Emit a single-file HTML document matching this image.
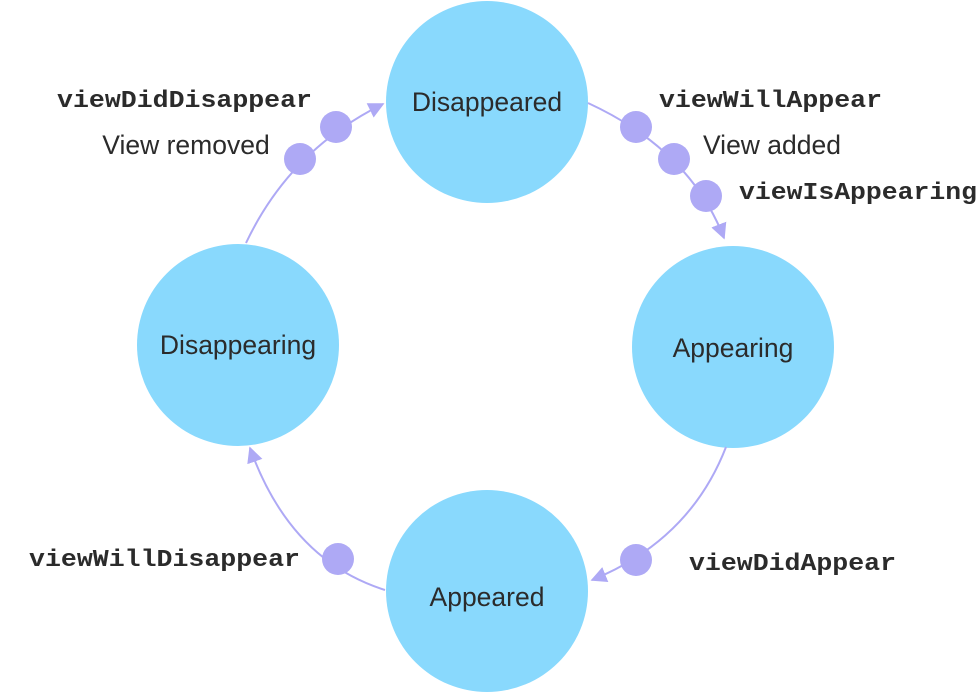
<!DOCTYPE html>
<html><head><style>body{margin:0;background:#fff}svg{display:block}</style></head><body>
<svg width="978" height="692" viewBox="0 0 978 692" xmlns="http://www.w3.org/2000/svg">
<defs><marker id="a" viewBox="0 0 10 10" refX="9" refY="5" markerWidth="8" markerHeight="8" orient="auto"><path d="M0,0L10,5L0,10z" fill="#aea9f5"/></marker></defs>
<g fill="#89d9fd">
<circle cx="487" cy="102" r="101"/>
<circle cx="733" cy="347" r="101"/>
<circle cx="487" cy="591" r="101"/>
<circle cx="238" cy="345" r="101"/>
</g>
<g fill="none" stroke="#aea9f5" stroke-width="2" marker-end="url(#a)">
<path d="M246,243 Q290,150 383,104"/>
<path d="M588,103 Q690,150 724,238"/>
<path d="M726,447 Q690,540 592,580"/>
<path d="M385,590 Q290,560 250,448"/>
</g>
<g fill="#aea9f5">
<circle cx="336" cy="127" r="16"/><circle cx="300" cy="159" r="16"/>
<circle cx="636" cy="127" r="16"/><circle cx="674" cy="159" r="16"/><circle cx="706" cy="196" r="16"/>
<circle cx="338" cy="559" r="16"/><circle cx="636" cy="560" r="16"/>
</g>
<g font-family="Liberation Sans, sans-serif" font-size="26.5" fill="#2b2b2b" text-anchor="middle">
<text x="487" y="111">Disappeared</text>
<text x="733" y="357">Appearing</text>
<text x="487" y="606">Appeared</text>
<text x="238" y="354">Disappearing</text>
<text x="186" y="154">View removed</text>
<text x="772" y="154">View added</text>
</g>
<g font-family="Liberation Mono, monospace" font-weight="bold" font-size="24" fill="#2b2b2b">
<text x="57" y="107" textLength="255" lengthAdjust="spacingAndGlyphs">viewDidDisappear</text>
<text x="659" y="107" textLength="223" lengthAdjust="spacingAndGlyphs">viewWillAppear</text>
<text x="739" y="199" textLength="238" lengthAdjust="spacingAndGlyphs">viewIsAppearing</text>
<text x="29" y="566" textLength="271" lengthAdjust="spacingAndGlyphs">viewWillDisappear</text>
<text x="689" y="570" textLength="207" lengthAdjust="spacingAndGlyphs">viewDidAppear</text>
</g>
</svg>
</body></html>
